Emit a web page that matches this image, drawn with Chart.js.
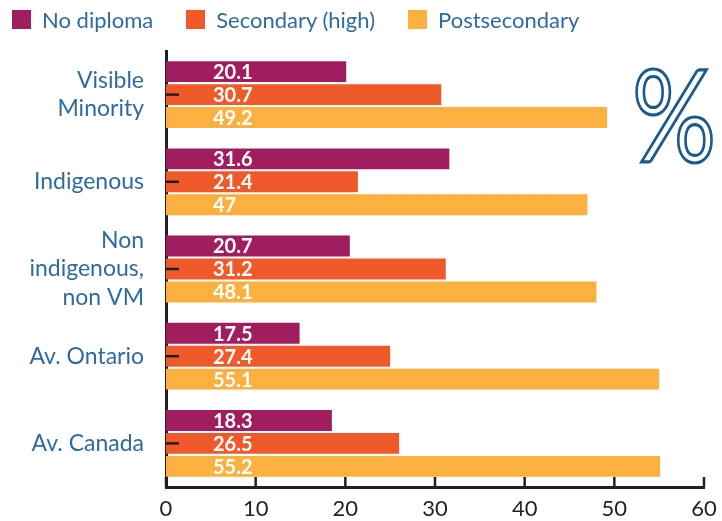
<!DOCTYPE html>
<html>
<head>
<meta charset="utf-8">
<script src="https://cdn.jsdelivr.net/npm/chart.js@4/dist/chart.umd.min.js"></script>
<style>
  body { margin: 0; background: #fff; }
  #wrap { position: relative; width: 722px; height: 521px; }
  #legend { position: absolute; left: 12px; top: 6px; display: flex; font: 22px Lato, sans-serif; color: #2f6ba0; }
  #legend .item { display: flex; align-items: center; margin-right: 33px; }
  #legend .box { width: 19px; height: 19px; margin-right: 11px; }
</style>
</head>
<body>
<div id="wrap">
  <canvas id="chart" width="722" height="521"></canvas>
  <div id="legend"></div>
</div>
<script>
const categories = [['Visible', 'Minority'], 'Indigenous', ['Non', 'indigenous,', 'non VM'], 'Av. Ontario', 'Av. Canada'];
const seriesNames = ['No diploma', 'Secondary (high)', 'Postsecondary'];
const seriesColors = ['#a01e5f', '#f05a2a', '#fbb040'];

// printed values
const noDiploma = [20.1, 31.6, 20.7, 17.5, 18.3];
const secondary = [30.7, 21.4, 31.2, 27.4, 26.5];
const postsecondary = [49.2, 47, 48.1, 55.1, 55.2];

// bar lengths as drawn in the picture (they don't always match the printed value)
const noDiplomaBars = [20.1, 31.6, 20.5, 14.9, 18.5];
const secondaryBars = [30.7, 21.4, 31.2, 25.0, 26.0];
const postsecondaryBars = [49.2, 47.0, 48.0, 55.0, 55.1];

const xTicks = [0, 10, 20, 30, 40, 50, 60];

const printed = [noDiploma, secondary, postsecondary];
const bars = [noDiplomaBars, secondaryBars, postsecondaryBars];

// html legend
const legendEl = document.getElementById('legend');
seriesNames.forEach((name, i) => {
  const item = document.createElement('div');
  item.className = 'item';
  item.innerHTML = '<span class="box" style="background:' + seriesColors[i] + '"></span>' + name;
  legendEl.appendChild(item);
});

const axisColor = '#231f20';

// value labels, inner tick marks and the big % sign
const extras = {
  id: 'extras',
  afterDatasetsDraw(chart) {
    const ctx = chart.ctx;
    const area = chart.chartArea;
    ctx.save();
    ctx.fillStyle = '#fff';
    ctx.font = 'bold 20px Lato, sans-serif';
    ctx.textAlign = 'left';
    ctx.textBaseline = 'middle';
    chart.data.datasets.forEach((ds, i) => {
      chart.getDatasetMeta(i).data.forEach((bar, j) => {
        ctx.fillText(String(printed[i][j]), area.left + 47, bar.y + 1);
      });
    });

    // tick marks pointing into the plot
    ctx.strokeStyle = axisColor;
    ctx.lineWidth = 2.5;
    const y = chart.scales.y;
    categories.forEach((c, j) => {
      const py = y.getPixelForValue(j);
      ctx.beginPath();
      ctx.moveTo(area.left, py);
      ctx.lineTo(area.left + 13, py);
      ctx.stroke();
    });
    const x = chart.scales.x;
    xTicks.forEach(v => {
      const px = x.getPixelForValue(v);
      ctx.beginPath();
      ctx.moveTo(px, area.bottom);
      ctx.lineTo(px, area.bottom - 10);
      ctx.stroke();
    });

    // % sign
    ctx.translate(674, 162);
    ctx.scale(0.82, 1);
    ctx.strokeStyle = '#1b5a8e';
    ctx.lineWidth = 3.2;
    ctx.font = '128px Lato, sans-serif';
    ctx.textAlign = 'center';
    ctx.textBaseline = 'alphabetic';
    ctx.strokeText('%', 0, 0);
    ctx.restore();
  }
};

new Chart(document.getElementById('chart'), {
  type: 'bar',
  data: {
    labels: categories,
    datasets: seriesNames.map((name, i) => ({
      label: name,
      data: bars[i],
      backgroundColor: seriesColors[i],
      borderWidth: 0,
      categoryPercentage: 0.79,
      barPercentage: 0.91
    }))
  },
  options: {
    indexAxis: 'y',
    responsive: false,
    animation: false,
    layout: { padding: { top: 51, right: 18, left: 0, bottom: 0 } },
    plugins: {
      legend: { display: false },
      tooltip: { enabled: false }
    },
    scales: {
      x: {
        min: 0,
        max: 60,
        afterFit: s => { s.height = 34; s.paddingLeft = 0; s.paddingRight = 0; },
        afterBuildTicks: s => { s.ticks = xTicks.map(v => ({ value: v })); },
        grid: { display: false, drawTicks: false },
        border: { display: true, color: axisColor, width: 3 },
        ticks: {
          padding: 9,
          autoSkip: false,
          maxRotation: 0,
          color: '#231f20',
          font: { family: 'Lato', size: 22 }
        }
      },
      y: {
        afterFit: s => { s.width = 166; s.paddingTop = 0; s.paddingBottom = 0; },
        grid: { display: false, drawTicks: false },
        border: { display: true, color: axisColor, width: 3 },
        ticks: {
          padding: 22,
          autoSkip: false,
          color: '#2f6ba0',
          font: { family: 'Lato', size: 23, lineHeight: 1.25 }
        }
      }
    }
  },
  plugins: [extras]
});
</script>
</body>
</html>
